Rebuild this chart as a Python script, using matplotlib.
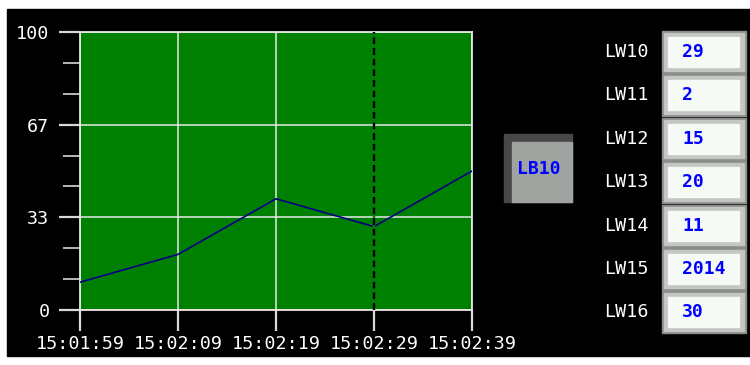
import matplotlib.pyplot as plt
from matplotlib.patches import Rectangle

# trend data
times = ["15:01:59", "15:02:09", "15:02:19", "15:02:29", "15:02:39"]
values = [10, 20, 40, 30, 50]
cursor_time = "15:02:29"

# y axis
y_ticks = [0, 100 / 3, 200 / 3, 100]
y_labels = ["0", "33", "67", "100"]

# word registers on the right
lw_names = ["LW10", "LW11", "LW12", "LW13", "LW14", "LW15", "LW16"]
lw_values = ["29", "2", "15", "20", "11", "2014", "30"]
button_text = "LB10"


def to_sec(s):
    h, m, sec = (int(p) for p in s.split(":"))
    return h * 3600 + m * 60 + sec


t0 = to_sec(times[0])
xs = [to_sec(t) - t0 for t in times]

W, H = 750, 365
fig = plt.figure(figsize=(W / 100, H / 100), dpi=100, facecolor="white")

# background / widget layer in pixel coordinates
bg = fig.add_axes([0, 0, 1, 1], zorder=0)
bg.set_xlim(0, W)
bg.set_ylim(H, 0)
bg.axis("off")
bg.add_patch(Rectangle((7, 9), W - 7, 347, color="black"))

font = "DejaVu Sans Mono"

# trend chart
ax = fig.add_axes([80 / W, 1 - 310 / H, 392 / W, 278 / H], zorder=1)
ax.set_facecolor("#008000")
ax.plot(xs, values, color="#000080", lw=1.2, zorder=3)
ax.axvline(to_sec(cursor_time) - t0, color="black", lw=1.7,
           linestyle=(0, (3, 1.5)), gapcolor="#008000", zorder=4)
ax.set_xlim(xs[0], xs[-1])
ax.set_ylim(0, 100)
ax.set_xticks(xs)
ax.set_xticklabels(times)
ax.set_yticks(y_ticks)
ax.set_yticklabels(y_labels)
ax.set_yticks([i * 100 / 9 for i in range(10) if i % 3], minor=True)
ax.grid(True, color="#e8e8e8", lw=1.1, zorder=1)
for sp in ax.spines.values():
    sp.set_color("#e8e8e8")
    sp.set_linewidth(1.3)
ax.tick_params(axis="both", which="major", length=15, width=1.6,
               color="#d8d8d8", labelcolor="white", labelsize=13.2)
ax.tick_params(axis="y", which="major", pad=7)
ax.tick_params(axis="x", which="major", pad=3)
ax.tick_params(axis="y", which="minor", length=12, width=1.4, color="#b8b8b8")
for lab in ax.get_xticklabels() + ax.get_yticklabels():
    lab.set_fontfamily(font)

# LB10 button
bg.add_patch(Rectangle((504, 134), 68, 68, color="#484848"))
bg.add_patch(Rectangle((511.5, 141.5), 60.5, 60.5, color="#a0a4a0"))
bg.text(539, 169, button_text, color="#0000ff", fontsize=13, fontweight="bold",
        family=font, ha="center", va="center")

# LW register boxes
for i, (name, val) in enumerate(zip(lw_names, lw_values)):
    top = 31 + i * 43.4
    bg.text(626, top + 21, name, color="white", fontsize=13.2, family=font,
            ha="center", va="center")
    bg.add_patch(Rectangle((662, top), 84, 42, color="#8c8e8c"))
    bg.add_patch(Rectangle((664, top + 2), 80, 38, color="#c4c6c4"))
    bg.add_patch(Rectangle((668, top + 6), 71, 30, color="#f6faf6"))
    bg.text(682, top + 21, val, color="#0000ff", fontsize=13, fontweight="bold",
            family=font, ha="left", va="center")

fig.savefig("out.png", dpi=100, facecolor=fig.get_facecolor())
